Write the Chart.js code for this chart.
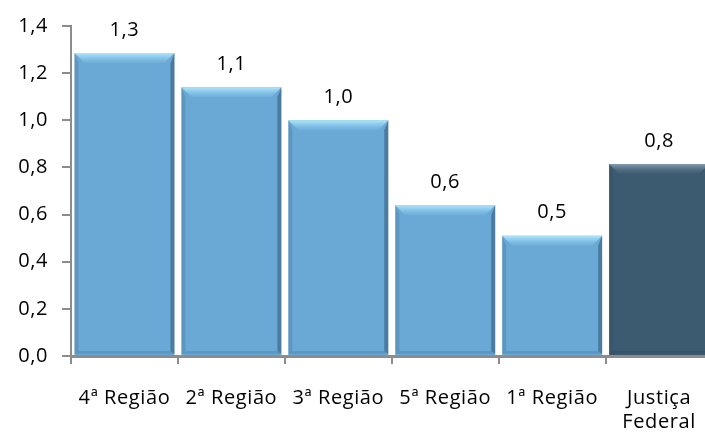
<!DOCTYPE html>
<html>
<head>
<meta charset="utf-8">
<script src="https://cdn.jsdelivr.net/npm/chart.js@4.4.1/dist/chart.umd.min.js"></script>
<style>
  html, body { margin: 0; padding: 0; background: #fff; overflow: hidden; }
  #wrap { width: 716px; height: 441px; }
</style>
</head>
<body>
<div id="wrap"><canvas id="chart"></canvas></div>
<script>
// data
var categories = ['4ª Região', '2ª Região', '3ª Região', '5ª Região', '1ª Região', ['Justiça', 'Federal']];
var values = [1.285, 1.14, 1.0, 0.64, 0.51, 0.815];
var barColors = ['#6aa8d5', '#6aa8d5', '#6aa8d5', '#6aa8d5', '#6aa8d5', '#3c5a70'];
var yTicks = [0, 0.2, 0.4, 0.6, 0.8, 1.0, 1.2, 1.4];

var FONT = { family: 'Open Sans', size: 20 };

function comma(v, d) {
    return v.toFixed(d).replace('.', ',');
}

// spacing between letters like the original renderer
var spacing = {
    id: 'spacing',
    beforeDraw: function (chart) {
        chart.ctx.letterSpacing = '0.6px';
    }
};

// bevel look on every bar
var bevel = {
    id: 'bevel',
    afterDatasetsDraw: function (chart) {
        var ctx = chart.ctx;
        var meta = chart.getDatasetMeta(0);
        meta.data.forEach(function (bar, i) {
            var l = bar.x - bar.width / 2, r = bar.x + bar.width / 2;
            var t = bar.y, b = bar.base - 1;
            var s = 10;
            var dark = i === 5;
            ctx.save();
            // top
            var g = ctx.createLinearGradient(0, t, 0, t + s);
            g.addColorStop(0, dark ? 'rgba(140,165,185,0.9)' : 'rgba(175,230,252,1)');
            g.addColorStop(1, dark ? 'rgba(90,115,135,0.1)' : 'rgba(140,205,240,0.15)');
            ctx.fillStyle = g;
            ctx.beginPath();
            ctx.moveTo(l, t); ctx.lineTo(r, t); ctx.lineTo(r - s, t + s); ctx.lineTo(l + s, t + s);
            ctx.closePath(); ctx.fill();
            // left
            ctx.fillStyle = 'rgba(40,70,95,0.18)';
            ctx.beginPath();
            ctx.moveTo(l, t); ctx.lineTo(l + 4, t + s); ctx.lineTo(l + 4, b - 3); ctx.lineTo(l, b);
            ctx.closePath(); ctx.fill();
            // right
            ctx.fillStyle = 'rgba(30,55,80,0.4)';
            ctx.beginPath();
            ctx.moveTo(r, t); ctx.lineTo(r - 4, t + s); ctx.lineTo(r - 4, b - 3); ctx.lineTo(r, b);
            ctx.closePath(); ctx.fill();
            // bottom
            ctx.fillStyle = 'rgba(30,55,80,0.15)';
            ctx.beginPath();
            ctx.moveTo(l, b); ctx.lineTo(l + 4, b - 3); ctx.lineTo(r - 4, b - 3); ctx.lineTo(r, b);
            ctx.closePath(); ctx.fill();
            ctx.restore();
        });
    }
};

// value labels above bars
var valueLabels = {
    id: 'valueLabels',
    afterDatasetsDraw: function (chart) {
        var ctx = chart.ctx;
        var meta = chart.getDatasetMeta(0);
        ctx.save();
        ctx.font = FONT.size + 'px ' + FONT.family;
        ctx.fillStyle = '#000';
        ctx.textAlign = 'center';
        ctx.textBaseline = 'middle';
        meta.data.forEach(function (bar, i) {
            ctx.fillText(comma(values[i], 1), bar.x, bar.y - 23);
        });
        ctx.restore();
    }
};

new Chart(document.getElementById('chart'), {
    type: 'bar',
    data: {
        labels: categories,
        datasets: [{
            data: values,
            backgroundColor: barColors,
            borderWidth: 0,
            barPercentage: 0.935,
            categoryPercentage: 1.0
        }]
    },
    options: {
        responsive: true,
        maintainAspectRatio: false,
        animation: false,
        layout: { padding: { top: 10, right: 3, left: 0, bottom: 0 } },
        plugins: {
            legend: { display: false },
            tooltip: { enabled: false }
        },
        scales: {
            x: {
                grid: { display: true, drawOnChartArea: false, drawTicks: true, tickLength: 8, color: '#8c8c8c', lineWidth: 2, offset: true },
                border: { color: '#8c8c8c', width: 3 },
                ticks: { color: '#000', font: FONT, padding: 22, maxRotation: 0, autoSkip: false },
                afterFit: function (scale) { scale.height = 85; }
            },
            y: {
                min: 0,
                max: 1.4,
                afterBuildTicks: function (scale) {
                    scale.ticks = yTicks.map(function (v) { return { value: v }; });
                },
                grid: { display: true, drawOnChartArea: false, drawTicks: true, tickLength: 9, color: '#8c8c8c', lineWidth: 2 },
                border: { color: '#8c8c8c', width: 2 },
                ticks: {
                    color: '#000', font: FONT, padding: 14,
                    callback: function (v) { return comma(v, 1); }
                },
                afterFit: function (scale) { scale.width = 71; }
            }
        }
    },
    plugins: [spacing, bevel, valueLabels]
});
</script>
</body>
</html>
